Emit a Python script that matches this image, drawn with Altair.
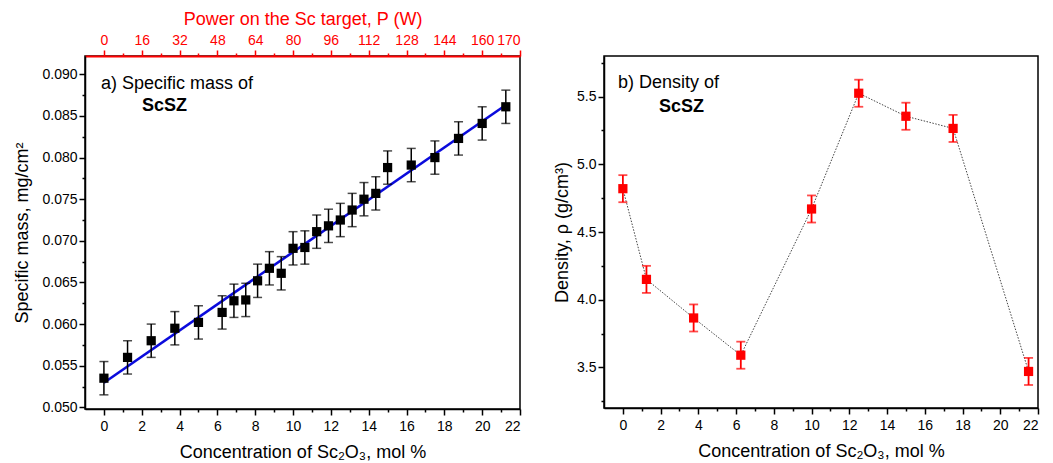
import altair as alt
import pandas as pd

FONT = "Liberation Sans"

# ---------------- data: panel a (specific mass) ----------------
conc_mass = [0, 1.25, 2.5, 3.75, 5, 6.25, 6.875, 7.5, 8.125, 8.75, 9.375, 10,
             10.625, 11.25, 11.875, 12.5, 13.125, 13.75, 14.375, 15, 16.25,
             17.5, 18.75, 20, 21.25]
mass = [0.0535, 0.0560, 0.0580, 0.0595, 0.0602, 0.0614, 0.0628, 0.0629,
        0.0652, 0.0667, 0.0661, 0.0691, 0.0692, 0.0711, 0.0718, 0.0725,
        0.0737, 0.0750, 0.0757, 0.0788, 0.0791, 0.0800, 0.0823, 0.0841,
        0.0861]
mass_err = [0.002, 0.002, 0.002, 0.002, 0.002, 0.002, 0.002, 0.002, 0.002,
            0.002, 0.002, 0.002, 0.002, 0.002, 0.002, 0.002, 0.002, 0.002,
            0.002, 0.002, 0.002, 0.002, 0.002, 0.002, 0.002]

# top axis (power)
power_tick_values = [0, 16, 32, 48, 64, 80, 96, 112, 128, 144, 160, 176]
power_tick_labels = ["0", "16", "32", "48", "64", "80", "96", "112", "128",
                     "144", "160", "170"]
power_minor_values = [8, 24, 40, 56, 72, 88, 104, 120, 136, 152, 168]

# ---------------- data: panel b (density) ----------------
conc_dens = [0, 1.25, 3.75, 6.25, 10, 12.5, 15, 17.5, 21.5]
density = [4.82, 4.15, 3.865, 3.59, 4.67, 5.525, 5.355, 5.265, 3.47]
density_err = [0.1, 0.1, 0.1, 0.1, 0.1, 0.1, 0.1, 0.1, 0.1]

# tick positions
conc_ticks = list(range(0, 23))
mass_ticks = [0.05, 0.0525, 0.055, 0.0575, 0.06, 0.0625, 0.065, 0.0675, 0.07,
              0.0725, 0.075, 0.0775, 0.08, 0.0825, 0.085, 0.0875, 0.09]
dens_ticks = [3.25, 3.5, 3.75, 4.0, 4.25, 4.5, 4.75, 5.0, 5.25, 5.5, 5.75]

annot_a = ["a) Specific mass of", "ScSZ"]
annot_b = ["b) Density of", "ScSZ"]

# ---------------- frames ----------------
df_m = pd.DataFrame({"conc": conc_mass, "mass": mass, "err": mass_err})
df_m["lo"] = df_m["mass"] - df_m["err"]
df_m["hi"] = df_m["mass"] + df_m["err"]

df_d = pd.DataFrame({"conc": conc_dens, "rho": density, "err": density_err})
df_d["lo"] = df_d["rho"] - df_d["err"]
df_d["hi"] = df_d["rho"] + df_d["err"]

x_scale = alt.Scale(domain=[-1, 22], nice=False, zero=False)
ym_scale = alt.Scale(domain=[0.0498, 0.0922], nice=False, zero=False)
yd_scale = alt.Scale(domain=[3.2, 5.8], nice=False, zero=False)


def minor_size(test):
    return {"condition": {"test": test, "value": 6}, "value": 3}


x_axis = alt.Axis(
    values=conc_ticks,
    labelExpr="datum.value % 2 === 0 ? datum.label : ''",
    tickSize=minor_size("datum.value % 2 === 0"),
    title="Concentration of Sc₂O₃, mol %",
    titlePadding=10,
    labelPadding=4,
    labelOverlap=False,
)

ym_axis = alt.Axis(
    values=mass_ticks,
    format=".3f",
    labelExpr="round(datum.value*10000) % 50 === 0 ? datum.label : ''",
    tickSize=minor_size("round(datum.value*10000) % 50 === 0"),
    title="Specific mass, mg/cm²",
    titlePadding=10,
    labelOverlap=False,
)

yd_axis = alt.Axis(
    values=dens_ticks,
    format=".1f",
    labelExpr="round(datum.value*100) % 50 === 0 ? datum.label : ''",
    tickSize=minor_size("round(datum.value*100) % 50 === 0"),
    title="Density, ρ (g/cm³)",
    titlePadding=5,
    labelOverlap=False,
)

# ---------------- panel a ----------------
base_m = alt.Chart(df_m)
X_m = alt.X("conc:Q", scale=x_scale, axis=x_axis)


def Ym(field):
    return alt.Y(field, scale=ym_scale, axis=ym_axis)


rules_m = base_m.mark_rule(color="black", strokeWidth=1.5).encode(
    x=X_m, y=Ym("lo:Q"), y2="hi:Q")
cap_lo_m = base_m.mark_tick(color="black", orient="horizontal", size=9, thickness=1.5).encode(
    x=X_m, y=Ym("lo:Q"))
cap_hi_m = base_m.mark_tick(color="black", orient="horizontal", size=9, thickness=1.5).encode(
    x=X_m, y=Ym("hi:Q"))
pts_m = base_m.mark_square(color="black", size=85, opacity=1).encode(
    x=X_m, y=Ym("mass:Q"))
fit_m = base_m.transform_regression("conc", "mass", extent=[0, 21.25]).mark_line(
    color="#0b0bdc", strokeWidth=2.6).encode(x=X_m, y=Ym("mass:Q"))

txt_a1 = alt.Chart(pd.DataFrame({"t": [annot_a[0]]})).mark_text(
    align="left", baseline="middle", font=FONT, fontSize=18, color="black").encode(
    x=alt.value(16), y=alt.value(28), text="t:N")
txt_a2 = alt.Chart(pd.DataFrame({"t": [annot_a[1]]})).mark_text(
    align="left", baseline="middle", font=FONT, fontSize=18, fontWeight="bold",
    color="black").encode(x=alt.value(57), y=alt.value(50), text="t:N")

power_all = sorted(power_tick_values + power_minor_values)
label_map = " : ".join(
    f"datum.value === {v} ? '{l}'" for v, l in zip(power_tick_values, power_tick_labels))
top_axis = alt.Axis(
    orient="top",
    values=power_all,
    labelExpr=label_map + " : ''",
    tickSize=minor_size("datum.value % 16 === 0"),
    title="Power on the Sc target, P (W)",
    titleColor="red", labelColor="red", tickColor="red", domainColor="red",
    titlePadding=5, labelPadding=3, labelOverlap=False, domainWidth=2,
)
top_m = alt.Chart(pd.DataFrame({"P": power_tick_values})).mark_point(opacity=0).encode(
    x=alt.X("P:Q", scale=alt.Scale(domain=[-8, 176], nice=False, zero=False), axis=top_axis))

inner_m = alt.layer(fit_m, rules_m, cap_lo_m, cap_hi_m, pts_m, txt_a1, txt_a2)
left = alt.layer(inner_m, top_m).resolve_scale(x="independent").properties(
    width=435, height=353)

# ---------------- panel b ----------------
base_d = alt.Chart(df_d)
X_d = alt.X("conc:Q", scale=x_scale, axis=x_axis)


def Yd(field):
    return alt.Y(field, scale=yd_scale, axis=yd_axis)


line_d = base_d.mark_line(color="#444444", strokeWidth=1, strokeDash=[1.5, 1.5]).encode(
    x=X_d, y=Yd("rho:Q"))
rules_d = base_d.mark_rule(color="red", strokeWidth=1.8).encode(
    x=X_d, y=Yd("lo:Q"), y2="hi:Q")
cap_lo_d = base_d.mark_tick(color="red", orient="horizontal", size=9, thickness=1.8).encode(
    x=X_d, y=Yd("lo:Q"))
cap_hi_d = base_d.mark_tick(color="red", orient="horizontal", size=9, thickness=1.8).encode(
    x=X_d, y=Yd("hi:Q"))
pts_d = base_d.mark_square(color="red", size=85, opacity=1).encode(
    x=X_d, y=Yd("rho:Q"))

txt_b1 = alt.Chart(pd.DataFrame({"t": [annot_b[0]]})).mark_text(
    align="left", baseline="middle", font=FONT, fontSize=18, color="black").encode(
    x=alt.value(14), y=alt.value(27), text="t:N")
txt_b2 = alt.Chart(pd.DataFrame({"t": [annot_b[1]]})).mark_text(
    align="left", baseline="middle", font=FONT, fontSize=18, fontWeight="bold",
    color="black").encode(x=alt.value(55), y=alt.value(51), text="t:N")

right = alt.layer(line_d, rules_d, cap_lo_d, cap_hi_d, pts_d, txt_b1, txt_b2).properties(
    width=434, height=352)

chart = alt.hconcat(left, right, spacing=28).properties(
    padding={"left": 5, "top": 1, "right": 0, "bottom": 0},
    background="white",
).configure_view(
    stroke="black", strokeWidth=1.5
).configure_axis(
    labelFont=FONT, titleFont=FONT, labelFontSize=14, titleFontSize=18,
    titleFontWeight="normal", labelColor="black", titleColor="black",
    domainColor="black", tickColor="black", domainWidth=1.5, tickWidth=1.5,
    grid=False, labelOverlap=False,
)

chart.save("out.html", embed_options={"renderer": "svg", "actions": False})
